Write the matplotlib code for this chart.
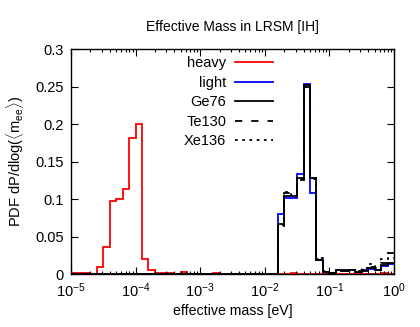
import numpy as np
import matplotlib.pyplot as plt
from matplotlib.lines import Line2D
from matplotlib.ticker import FixedLocator, LogLocator, NullFormatter

plt.rcParams['font.family'] = ['Liberation Sans', 'DejaVu Sans']
plt.rcParams['mathtext.fontset'] = 'custom'
plt.rcParams['mathtext.rm'] = 'Liberation Sans'
plt.rcParams['mathtext.it'] = 'Liberation Sans:italic'

# histogram bins: 0.1 decade from 1e-5 to 1 eV
log_edges = np.round(np.arange(-5.0, 0.01, 0.1), 1)
edges = 10.0 ** log_edges

heavy = [0.0013, 0.002, 0.002, 0.0, 0.010, 0.036, 0.097, 0.100, 0.114, 0.182,
         0.200, 0.020, 0.006, 0.0013, 0.0013, 0.001, 0.0, 0.003, 0.0, 0.0,
         0.0, 0.0, 0.001, 0.0, 0.0, 0.0, 0.0, 0.0, 0.0, 0.0,
         0.0, 0.0, 0.0, 0.0, 0.002, 0.0, 0.0, 0.0, 0.0, 0.0,
         0.0, 0.0, 0.0, 0.0, 0.0, 0.0, 0.0, 0.0, 0.001, 0.0]
light = [0.0] * 32 + [0.080, 0.102, 0.102, 0.134, 0.254, 0.108, 0.019, 0.003,
                      0.002, 0.005, 0.004, 0.005, 0.003, 0.005, 0.007, 0.006, 0.011, 0.013]
ge76 = [0.0] * 32 + [0.067, 0.104, 0.104, 0.128, 0.252, 0.128, 0.019, 0.003,
                     0.002, 0.005, 0.004, 0.006, 0.003, 0.004, 0.008, 0.006, 0.012, 0.015]
te130 = [0.0] * 32 + [0.063, 0.108, 0.107, 0.126, 0.250, 0.128, 0.020, 0.003,
                      0.002, 0.004, 0.005, 0.005, 0.004, 0.006, 0.010, 0.008, 0.015, 0.028]
xe136 = [0.0] * 32 + [0.065, 0.110, 0.106, 0.127, 0.249, 0.127, 0.021, 0.004,
                      0.002, 0.004, 0.004, 0.006, 0.005, 0.008, 0.013, 0.009, 0.020, 0.022]

names = ['heavy', 'light', 'Ge76', 'Te130', 'Xe136']
colors = ['#ff0000', '#0000ff', 'black', 'black', 'black']
styles = ['-', '-', '-', (0, (4, 5)), (0, (1.5, 2.5))]

fig = plt.figure(figsize=(4.2, 3.27), dpi=100)
ax = fig.add_axes([0.169, 0.162, 0.769, 0.688])

lw = 1.3
for vals, name, c, ls in zip([heavy, light, ge76, te130, xe136], names, colors, styles):
    ax.stairs(vals, edges, color=c, lw=lw, ls=ls, baseline=None)

ax.set_xscale('log')
ax.set_xlim(1e-5, 1)
ax.set_ylim(0, 0.3)
ax.xaxis.set_major_locator(LogLocator(base=10, numticks=10))
ax.xaxis.set_minor_locator(LogLocator(base=10, subs=np.arange(2, 10), numticks=10))
ax.xaxis.set_minor_formatter(NullFormatter())
yt = [0, 0.05, 0.1, 0.15, 0.2, 0.25, 0.3]
ax.yaxis.set_major_locator(FixedLocator(yt))
ax.set_yticklabels(['0', '0.05', '0.1', '0.15', '0.2', '0.25', '0.3'])

ax.tick_params(which='both', direction='in', top=True, right=True, labelsize=10.5, width=0.8)
ax.tick_params(which='major', length=5, pad=5)
ax.tick_params(which='minor', length=2.5)
for s in ax.spines.values():
    s.set_linewidth(1.0)

ax.set_title('Effective Mass in LRSM [IH]', fontsize=10, pad=13)
ax.set_xlabel('effective mass [eV]', fontsize=10.2, labelpad=3)
ax.set_ylabel(r'PDF dP/dlog($\langle$m$_{\mathrm{ee}}\rangle$)', fontsize=10.5, labelpad=7)

handles = [Line2D([], [], color=c, lw=lw, ls=ls) for c, ls in zip(colors, styles)]
ax.legend(handles, names, loc='upper right', bbox_to_anchor=(0.625, 0.967),
          frameon=False, markerfirst=False, fontsize=10.5, handlelength=2.6,
          labelspacing=0.37, handletextpad=0.6, borderpad=0, borderaxespad=0,
          alignment='right')

fig.savefig('out.png', dpi=100)
